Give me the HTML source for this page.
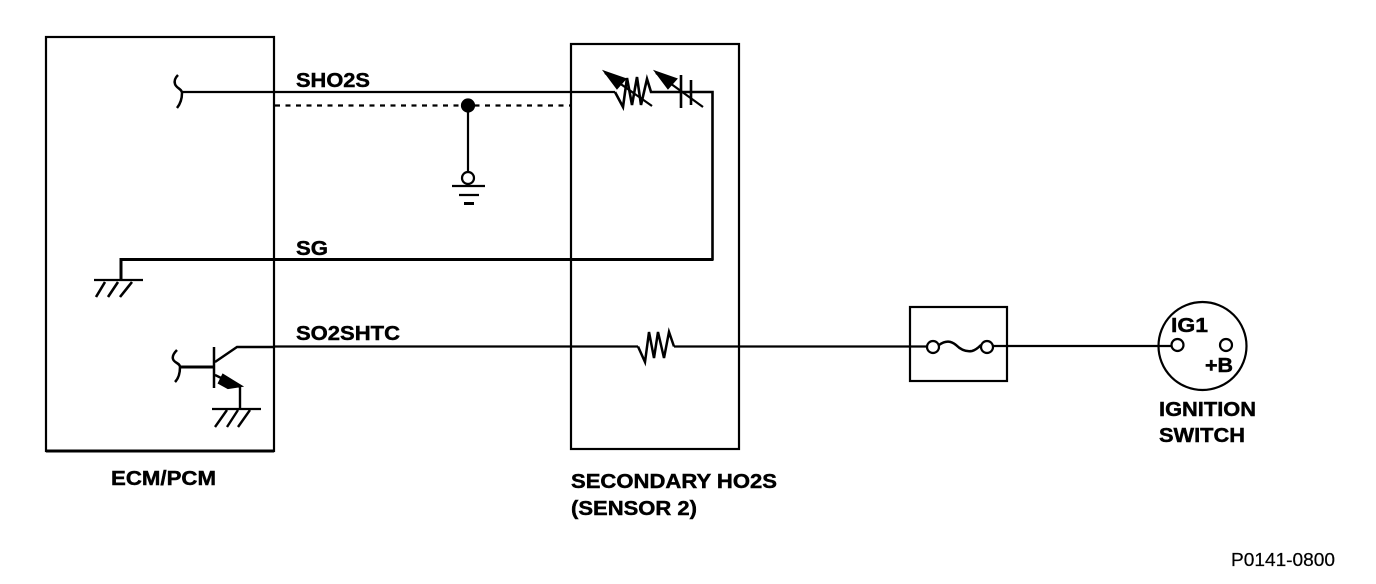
<!DOCTYPE html>
<html>
<head>
<meta charset="utf-8">
<style>
html,body{margin:0;padding:0;background:#fff;width:1376px;height:584px;overflow:hidden}
svg{display:block}
text{font-family:"Liberation Sans",Arial,sans-serif;font-weight:bold;font-size:20px;fill:#000;stroke:#000;stroke-width:.45px}
</style>
</head>
<body>
<svg width="1376" height="584" viewBox="0 0 1376 584" xmlns="http://www.w3.org/2000/svg">
<g fill="none" stroke="#000" stroke-width="2.200">
  <!-- boxes -->
  <rect x="46" y="37" width="228" height="414"/>
  <path d="M46 451H274" stroke-width="3"/>
  <rect x="571" y="44" width="168" height="405"/>
  <rect x="910" y="307" width="97" height="74"/>

  <!-- SHO2S wire -->
  <path d="M178 75C175 78 174 81 175 84C176 88 182 89 182 93C182 98 181 103 177 108" stroke-width="2.500"/>
  <path d="M182 92H615"/>
  <path d="M615 92L623 107L627 78L632 105L637 77L641 105L647 79L651 92H712.500V260" stroke-width="2.600" stroke-linejoin="miter"/>
  <path d="M605 73L652 106" stroke-width="2.200"/>
  <path d="M605 72L625 79L617 88Z" fill="#000"/>
  <path d="M656 73L703 107"/>
  <path d="M656 72L676 79L668 88Z" fill="#000"/>
  <path d="M681 75V108M691 80V105" stroke-width="2.600"/>

  <!-- shield -->
  <path d="M275 105.500H570" stroke-dasharray="5 5.500"/>
  <circle cx="468" cy="105.500" r="6" fill="#000"/>
  <path d="M468 106V172"/>
  <circle cx="468" cy="178" r="6" fill="#fff"/>
  <path d="M452 186H485M459 195H479"/>
  <path d="M464 203.500H474" stroke-width="3"/>

  <!-- SG -->
  <path d="M121 280V259.500H713.500" stroke-width="3"/>
  <path d="M94 280H143"/>
  <path d="M105 282L96 297M118 282L108 297M132 282L120 297" stroke-width="2.600"/>

  <!-- transistor -->
  <path d="M177 350C174 353 172 356 173 359C174 363 180 363 180 367C180 372 179 378 175 382" stroke-width="2.500"/>
  <path d="M180 367H214" stroke-width="3"/>
  <path d="M214 347V388" stroke-width="2.500"/>
  <path d="M215 362L237 347H274" stroke-width="2.400"/>
  <path d="M215 375L240 387V408" stroke-width="2.400"/>
  <path d="M223 375L241 386L228 388L219 383Z" fill="#000"/>
  <path d="M212 409H261"/>
  <path d="M227 410L215 427M238 410L227 427M250 410L238 427" stroke-width="2.400"/>

  <!-- SO2SHTC -->
  <path d="M274 346.500H638"/>
  <path d="M638 346.500L645 362L649 332L654 358L658 332L664 358L669 332L674 346.500" stroke-width="2.500"/>
  <path d="M674 346.500H927"/>
  <circle cx="933" cy="347" r="6" fill="#fff"/>
  <circle cx="987" cy="347" r="6" fill="#fff"/>
  <path d="M939 345C946 340 951 341 956 345C961 350 966 352 972 351C976 350 979 347 981 345" stroke-width="2.500"/>
  <path d="M993 346H1171"/>

  <!-- ignition switch -->
  <circle cx="1202.500" cy="346" r="44"/>
  <circle cx="1177.500" cy="345" r="6" fill="#fff"/>
  <circle cx="1226" cy="345" r="6" fill="#fff"/>
</g>

<text x="296" y="87" textLength="74" lengthAdjust="spacingAndGlyphs">SHO2S</text>
<text x="296" y="255" textLength="32" lengthAdjust="spacingAndGlyphs">SG</text>
<text x="296" y="340" textLength="104" lengthAdjust="spacingAndGlyphs">SO2SHTC</text>
<text x="111" y="485" textLength="105" lengthAdjust="spacingAndGlyphs">ECM/PCM</text>
<text x="571" y="488" textLength="206" lengthAdjust="spacingAndGlyphs">SECONDARY HO2S</text>
<text x="571" y="515" textLength="126" lengthAdjust="spacingAndGlyphs">(SENSOR 2)</text>
<text x="1171" y="332" textLength="37" lengthAdjust="spacingAndGlyphs">IG1</text>
<text x="1205" y="372" textLength="28" lengthAdjust="spacingAndGlyphs">+B</text>
<text x="1159" y="416" textLength="97" lengthAdjust="spacingAndGlyphs">IGNITION</text>
<text x="1159" y="442" textLength="86" lengthAdjust="spacingAndGlyphs">SWITCH</text>
<text x="1231" y="566" textLength="104" lengthAdjust="spacingAndGlyphs" style="font-weight:normal;font-size:18px;stroke-width:.2px">P0141-0800</text>
</svg>
</body>
</html>
